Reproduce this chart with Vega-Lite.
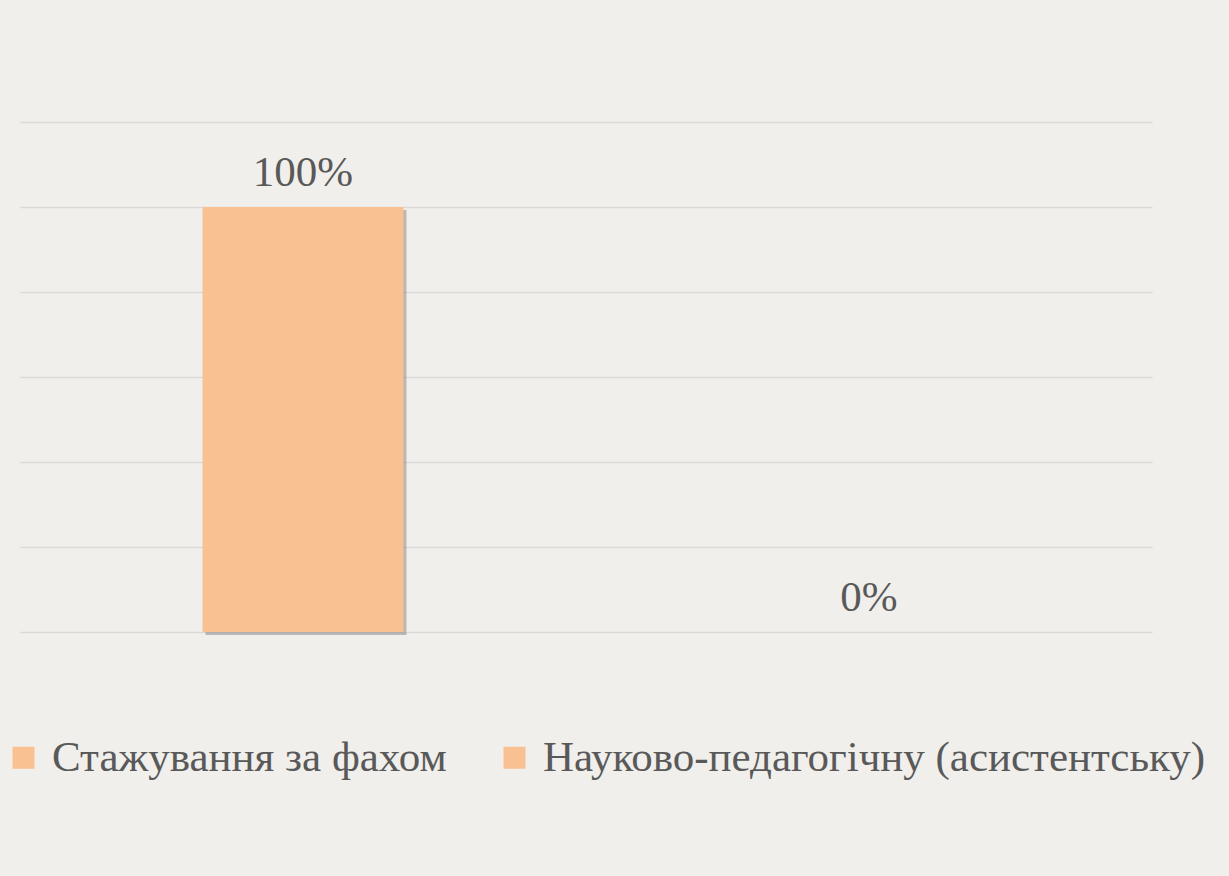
{
  "$schema": "https://vega.github.io/schema/vega-lite/v6.json",
  "width": 1132,
  "height": 510,
  "autosize": {"type": "none"},
  "padding": {"left": 20, "top": 122, "right": 77, "bottom": 244},
  "background": "#f0efeb",
  "config": {
    "view": {"stroke": null},
    "font": "Liberation Serif",
    "axis": {"gridColor": "#d9d9d9", "gridWidth": 1.5}
  },
  "data": {
    "values": [
      {"category": "Стажування за фахом", "value": 1.0, "label": "100%"},
      {"category": "Науково-педагогічну (асистентську)", "value": 0.0, "label": "0%"}
    ]
  },
  "encoding": {
    "x": {
      "field": "category",
      "type": "nominal",
      "sort": null,
      "scale": {"paddingInner": 0.645, "paddingOuter": 0.3225},
      "axis": null
    },
    "y": {
      "field": "value",
      "type": "quantitative",
      "scale": {"domain": [0, 1.2], "nice": false},
      "axis": {"values": [0, 0.2, 0.4, 0.6, 0.8, 1.0, 1.2], "labels": false, "ticks": false, "domain": false, "title": null, "grid": true}
    }
  },
  "layer": [
    {
      "mark": {"type": "bar", "color": "#8a8a8a", "opacity": 0.55, "xOffset": 3, "yOffset": 3}
    },
    {
      "mark": {"type": "bar"},
      "encoding": {
        "color": {
          "field": "category",
          "type": "nominal",
          "sort": null,
          "scale": {"range": ["#f9c192", "#f9c192"]},
          "legend": {
            "orient": "none",
            "legendX": -18,
            "legendY": 614,
            "direction": "horizontal",
            "title": null,
            "symbolType": "square",
            "symbolSize": 484,
            "symbolStrokeWidth": 0,
            "labelFontSize": 43,
            "labelColor": "#595959",
            "labelFont": "Liberation Serif",
            "labelLimit": 1000,
            "labelOffset": 7,
            "columnPadding": 46
          }
        }
      }
    },
    {
      "mark": {"type": "text", "fontSize": 43, "color": "#595959", "baseline": "alphabetic", "dy": -21, "font": "Liberation Serif"},
      "encoding": {"text": {"field": "label"}}
    }
  ]
}
